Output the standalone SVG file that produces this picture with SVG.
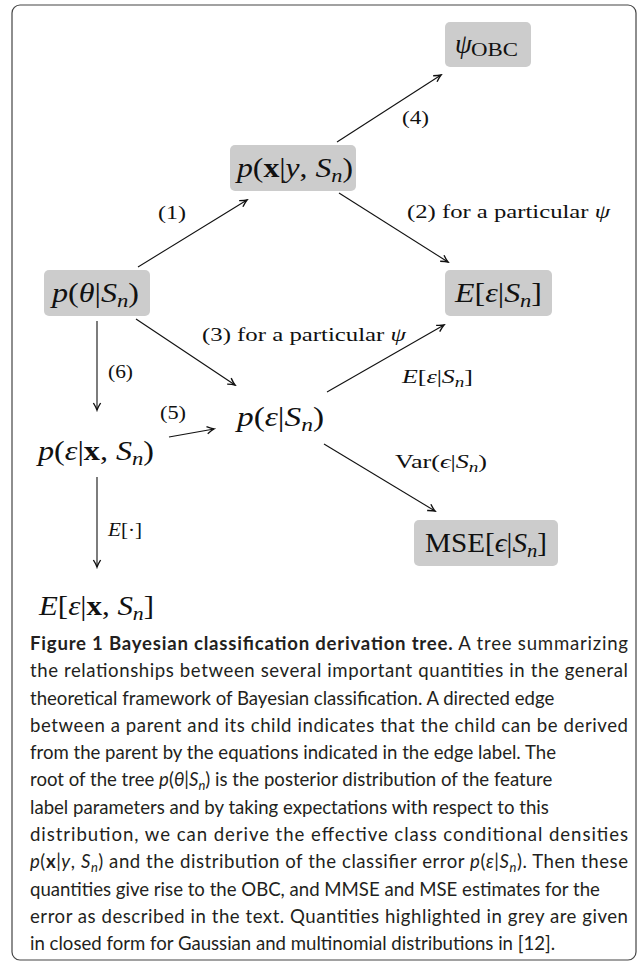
<svg xmlns="http://www.w3.org/2000/svg" width="637" height="961" viewBox="0 0 637 961">
<style>
.m{font-family:"Liberation Serif","DejaVu Serif",serif;fill:#111}
.big{font-size:27px}
.lab{font-size:19px}
.i{font-style:italic}
.b{font-weight:bold;font-style:normal}
.box{fill:#cccccc}
.e{stroke:#111;stroke-width:1.1;fill:none;marker-end:url(#ah)}
.cap{font-family:Lato,"Open Sans",sans-serif;font-size:18.6px;fill:#231f20}
</style>
<defs>
<marker id="ah" viewBox="-8 -5 10 10" refX="0" refY="0" markerWidth="10" markerHeight="10" markerUnits="userSpaceOnUse" orient="auto">
<path d="M-7,-3.6 Q-2.5,-0.8 0,0 Q-2.5,0.8 -7,3.6" fill="none" stroke="#111" stroke-width="1.4"/>
</marker>
</defs>
<rect x="12" y="5" width="624" height="955" rx="8" fill="#fff" stroke="#444" stroke-width="1.2"/>

<g id="connectors">
<line class="e" x1="138" y1="267" x2="247" y2="200"/>
<line class="e" x1="339" y1="193" x2="448" y2="262"/>
<line class="e" x1="136" y1="319" x2="235" y2="385"/>
<line class="e" x1="337" y1="142" x2="441" y2="75"/>
<line class="e" x1="169" y1="437" x2="214" y2="429"/>
<line class="e" x1="97" y1="321" x2="97" y2="410"/>
<line class="e" x1="327" y1="392" x2="444" y2="325"/>
<line class="e" x1="324" y1="444" x2="435" y2="511"/>
<line class="e" x1="97" y1="477" x2="97" y2="567"/>
<text class="m lab" x="158" y="219" textLength="28" lengthAdjust="spacingAndGlyphs">(1)</text>
<text class="m lab" x="407" y="218" textLength="203" lengthAdjust="spacingAndGlyphs">(2) for a particular <tspan class="i">ψ</tspan></text>
<text class="m lab" x="202" y="341" textLength="204" lengthAdjust="spacingAndGlyphs">(3) for a particular <tspan class="i">ψ</tspan></text>
<text class="m lab" x="402" y="124" textLength="27" lengthAdjust="spacingAndGlyphs">(4)</text>
<text class="m lab" x="160" y="419" textLength="26" lengthAdjust="spacingAndGlyphs">(5)</text>
<text class="m lab" x="108" y="378" textLength="25" lengthAdjust="spacingAndGlyphs">(6)</text>
<text class="m lab" x="402" y="383" textLength="71" lengthAdjust="spacingAndGlyphs"><tspan class="i">E</tspan>[<tspan class="i">ε</tspan>|<tspan class="i">S</tspan><tspan class="i" font-size="14" dy="4">n</tspan><tspan dy="-4">]</tspan></text>
<text class="m lab" x="395" y="468" textLength="92" lengthAdjust="spacingAndGlyphs">Var(<tspan class="i">ϵ</tspan>|<tspan class="i">S</tspan><tspan class="i" font-size="14" dy="4">n</tspan><tspan dy="-4">)</tspan></text>
<text class="m lab" x="108" y="536" textLength="34" lengthAdjust="spacingAndGlyphs"><tspan class="i">E</tspan>[·]</text>
</g>

<g id="n_psi">
<rect class="box" x="445" y="22" width="86" height="45" rx="5"/>
<text class="m big i" x="455" y="53">ψ</text>
<text class="m" x="471" y="56" font-size="18" textLength="47" lengthAdjust="spacingAndGlyphs">OBC</text>
</g>
<g id="n_pxy">
<rect class="box" x="230" y="145" width="126" height="46" rx="5"/>
<text class="m big" x="237" y="177" textLength="116" lengthAdjust="spacingAndGlyphs"><tspan class="i">p</tspan>(<tspan class="b">x</tspan>|<tspan class="i">y</tspan>, <tspan class="i">S</tspan><tspan class="i" font-size="19" dy="5">n</tspan><tspan dy="-5">)</tspan></text>
</g>
<g id="n_ptheta">
<rect class="box" x="44" y="270" width="106" height="46" rx="5"/>
<text class="m big" x="52" y="302" textLength="87" lengthAdjust="spacingAndGlyphs"><tspan class="i">p</tspan>(<tspan class="i">θ</tspan>|<tspan class="i">S</tspan><tspan class="i" font-size="19" dy="5">n</tspan><tspan dy="-5">)</tspan></text>
</g>
<g id="n_E">
<rect class="box" x="445" y="270" width="107" height="46" rx="5"/>
<text class="m big" x="455" y="302" textLength="87" lengthAdjust="spacingAndGlyphs"><tspan class="i">E</tspan>[<tspan class="i">ε</tspan>|<tspan class="i">S</tspan><tspan class="i" font-size="19" dy="5">n</tspan><tspan dy="-5">]</tspan></text>
</g>
<g id="n_peps">
<text class="m big" x="237" y="426" textLength="87" lengthAdjust="spacingAndGlyphs"><tspan class="i">p</tspan>(<tspan class="i">ε</tspan>|<tspan class="i">S</tspan><tspan class="i" font-size="19" dy="5">n</tspan><tspan dy="-5">)</tspan></text>
</g>
<g id="n_pepsx">
<text class="m big" x="38" y="460" textLength="116" lengthAdjust="spacingAndGlyphs"><tspan class="i">p</tspan>(<tspan class="i">ε</tspan>|<tspan class="b">x</tspan>, <tspan class="i">S</tspan><tspan class="i" font-size="19" dy="5">n</tspan><tspan dy="-5">)</tspan></text>
</g>
<g id="n_MSE">
<rect class="box" x="414" y="520" width="144" height="46" rx="5"/>
<text class="m big" x="425" y="552" textLength="122" lengthAdjust="spacingAndGlyphs">MSE[<tspan class="i">ϵ</tspan>|<tspan class="i">S</tspan><tspan class="i" font-size="19" dy="5">n</tspan><tspan dy="-5">]</tspan></text>
</g>
<g id="n_Ex">
<text class="m big" x="39" y="615" textLength="115" lengthAdjust="spacingAndGlyphs"><tspan class="i">E</tspan>[<tspan class="i">ε</tspan>|<tspan class="b">x</tspan>, <tspan class="i">S</tspan><tspan class="i" font-size="19" dy="5">n</tspan><tspan dy="-5">]</tspan></text>
</g>

<g id="caption" class="cap">
<text x="30" y="650" textLength="598" lengthAdjust="spacing"><tspan font-weight="bold">Figure 1 Bayesian classification derivation tree.</tspan> A tree summarizing</text>
<text x="30" y="677.3" textLength="598" lengthAdjust="spacing">the relationships between several important quantities in the general</text>
<text x="30" y="704.5">theoretical framework of Bayesian classification. A directed edge</text>
<text x="30" y="731.8" textLength="598" lengthAdjust="spacing">between a parent and its child indicates that the child can be derived</text>
<text x="30" y="759.1">from the parent by the equations indicated in the edge label. The</text>
<text x="30" y="786.4">root of the tree <tspan font-style="italic">p</tspan>(<tspan font-style="italic">θ</tspan>|<tspan font-style="italic">S</tspan><tspan font-style="italic" font-size="13" dy="4">n</tspan><tspan dy="-4">) is the posterior distribution of the feature</tspan></text>
<text x="30" y="813.6">label parameters and by taking expectations with respect to this</text>
<text x="30" y="840.9" textLength="598" lengthAdjust="spacing">distribution, we can derive the effective class conditional densities</text>
<text x="30" y="868.2" textLength="598" lengthAdjust="spacing"><tspan font-style="italic">p</tspan>(<tspan font-weight="bold">x</tspan>|<tspan font-style="italic">y</tspan>, <tspan font-style="italic">S</tspan><tspan font-style="italic" font-size="13" dy="4">n</tspan><tspan dy="-4">) and the distribution of the classifier error </tspan><tspan font-style="italic">p</tspan>(<tspan font-style="italic">ε</tspan>|<tspan font-style="italic">S</tspan><tspan font-style="italic" font-size="13" dy="4">n</tspan><tspan dy="-4">). Then these</tspan></text>
<text x="30" y="895.5">quantities give rise to the OBC, and MMSE and MSE estimates for the</text>
<text x="30" y="922.7" textLength="598" lengthAdjust="spacing">error as described in the text. Quantities highlighted in grey are given</text>
<text x="30" y="950">in closed form for Gaussian and multinomial distributions in [12].</text>
</g>
</svg>
